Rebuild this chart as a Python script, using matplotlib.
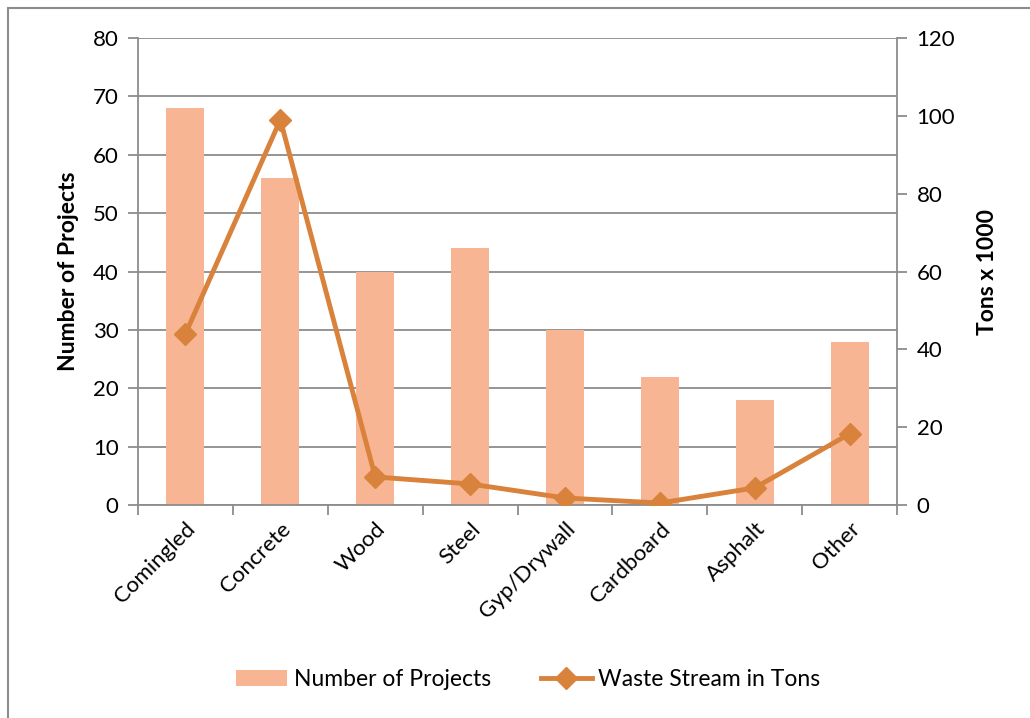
import matplotlib
matplotlib.use("Agg")
import matplotlib.pyplot as plt
import numpy as np
from matplotlib.patches import Rectangle

categories = ["Comingled", "Concrete", "Wood", "Steel", "Gyp/Drywall",
              "Cardboard", "Asphalt", "Other"]
num_projects = [68, 56, 40, 44, 30, 22, 18, 28]
waste_tons_k = [44, 99, 7.2, 5.4, 1.8, 0.5, 4.4, 18.3]

bar_color = "#F8B593"
line_color = "#D9823B"
grid_color = "#8C8C8C"

plt.rcParams["font.family"] = ["Lato", "DejaVu Sans"]

fig = plt.figure(figsize=(10.30, 7.18), dpi=100)
ax = fig.add_axes([0.134, 0.2967, 0.737, 0.6503])
ax2 = ax.twinx()

x = np.arange(len(categories))
bars = ax.bar(x, num_projects, width=0.4, color=bar_color, zorder=2,
              label="Number of Projects")
ln, = ax2.plot(x, waste_tons_k, color=line_color, lw=3.5, marker="D",
               markersize=11, zorder=3, label="Waste Stream in Tons")

ax.set_xlim(-0.5, len(categories) - 0.5)
ax.set_ylim(0, 80)
ax.set_yticks(np.arange(0, 81, 10))
ax2.set_ylim(0, 120)
ax2.set_yticks(np.arange(0, 121, 20))

ax.yaxis.grid(True, color=grid_color, lw=1.3, zorder=0)
ax.set_axisbelow(True)

for a in (ax, ax2):
    for s in a.spines.values():
        s.set_visible(False)
    a.tick_params(axis="y", length=7, width=1.3, color=grid_color,
                  labelsize=16, pad=7)
ax.spines["left"].set_visible(True)
ax.spines["left"].set_color(grid_color)
ax.spines["left"].set_linewidth(1.3)
ax.spines["bottom"].set_visible(True)
ax.spines["bottom"].set_color(grid_color)
ax.spines["bottom"].set_linewidth(1.3)
ax2.spines["right"].set_visible(True)
ax2.spines["right"].set_color(grid_color)
ax2.spines["right"].set_linewidth(1.3)

# category labels centred on bars, ticks between categories
ax.set_xticks(x)
ax.set_xticklabels(categories, rotation=45, ha="right", rotation_mode="anchor",
                   fontsize=16)
ax.tick_params(axis="x", length=0, pad=10)
ax.set_xticks(np.arange(-0.5, len(categories) + 0.5, 1), minor=True)
ax.tick_params(axis="x", which="minor", length=7, width=1.3, color=grid_color)

ax.set_ylabel("Number of Projects", fontsize=16.5, fontweight="bold", labelpad=10)
ax2.set_ylabel("Tons x 1000", fontsize=16.5, fontweight="bold", labelpad=16)

fig.legend(handles=[bars, ln], loc="center", bbox_to_anchor=(0.513, 0.053),
           ncol=2, frameon=False, fontsize=16.5, handlelength=2.2,
           handletextpad=0.3, columnspacing=2.2)

# chart area border
fig.patches.append(Rectangle((8 / 1030, -0.01), 1.02, 1 - 8 / 718 + 0.01,
                             transform=fig.transFigure, fill=False,
                             edgecolor="#8C8C8C", lw=1.5))

fig.savefig("out.png", dpi=100)
